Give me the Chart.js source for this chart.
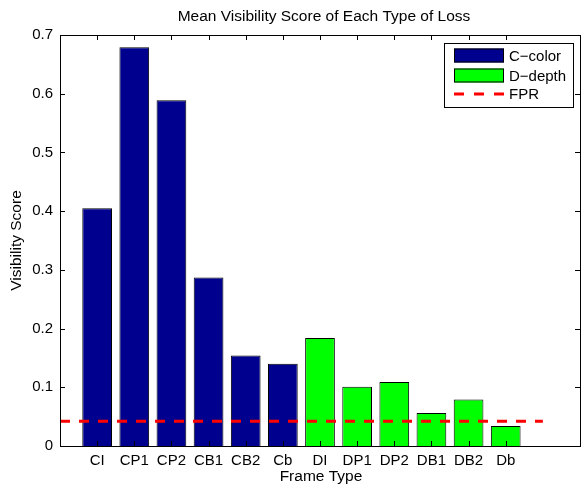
<!DOCTYPE html>
<html>
<head>
<meta charset="utf-8">
<script src="https://cdn.jsdelivr.net/npm/chart.js@4.4.1/dist/chart.umd.min.js"></script>
<style>
  html, body { margin: 0; padding: 0; background: #fff; }
  #wrap { width: 582px; height: 487px; }
</style>
</head>
<body>
<div id="wrap"><canvas id="chart" width="582" height="487"></canvas></div>
<script>
// data
const categories = ['CI', 'CP1', 'CP2', 'CB1', 'CB2', 'Cb', 'DI', 'DP1', 'DP2', 'DB1', 'DB2', 'Db'];
const colorScores = [0.405, 0.679, 0.589, 0.287, 0.154, 0.140];
const depthScores = [0.184, 0.101, 0.109, 0.056, 0.079, 0.034];
const fprValue = 0.042;
const fprRange = [0, 13];
const yTicks = [0, 0.1, 0.2, 0.3, 0.4, 0.5, 0.6, 0.7];

const FONT = '"Liberation Sans", Arial, Helvetica, sans-serif';
const NAVY = '#00008f';
const GREEN = '#00ff00';

// bars sit at x = 1..12, like MATLAB's bar()
const colorPts = colorScores.map((v, i) => ({ x: i + 1, y: v }));
const depthPts = depthScores.map((v, i) => ({ x: colorScores.length + i + 1, y: v }));
const fprPts = fprRange.map(x => ({ x, y: fprValue }));

// box, inward ticks, title, axis labels and legend in MATLAB style
const matlabFrame = {
  id: 'matlabFrame',
  afterDraw(chart) {
    const { ctx, chartArea: a, scales: { x, y } } = chart;
    ctx.save();
    ctx.strokeStyle = '#000';
    ctx.lineWidth = 1;
    ctx.strokeRect(Math.round(a.left) + 0.5, Math.round(a.top) + 0.5,
                   Math.round(a.right - a.left), Math.round(a.bottom - a.top));

    ctx.beginPath();
    categories.forEach((c, i) => {
      const px = Math.round(x.getPixelForValue(i + 1)) + 0.5;
      ctx.moveTo(px, a.bottom); ctx.lineTo(px, a.bottom - 5);
      ctx.moveTo(px, a.top); ctx.lineTo(px, a.top + 5);
    });
    yTicks.forEach(v => {
      const py = Math.round(y.getPixelForValue(v)) + 0.5;
      ctx.moveTo(a.left, py); ctx.lineTo(a.left + 5, py);
      ctx.moveTo(a.right, py); ctx.lineTo(a.right - 5, py);
    });
    ctx.stroke();

    ctx.fillStyle = '#000';
    ctx.font = '15.5px ' + FONT;
    ctx.textAlign = 'center';
    ctx.textBaseline = 'middle';
    const cx = (a.left + a.right) / 2;
    ctx.fillText('Mean Visibility Score of Each Type of Loss', cx + 4, 17);
    ctx.fillText('Frame Type', cx + 1, 477);
    ctx.save();
    ctx.translate(17, (a.top + a.bottom) / 2);
    ctx.rotate(-Math.PI / 2);
    ctx.fillText('Visibility Score', 0, 0);
    ctx.restore();

    // legend
    const lx = 444, ly = 43, lw = 129, lh = 64;
    ctx.fillStyle = '#fff';
    ctx.fillRect(lx, ly, lw, lh);
    ctx.strokeRect(lx + 0.5, ly + 0.5, lw, lh);
    const rows = [
      { label: 'C\u2212color', fill: NAVY, yc: 55.5 },
      { label: 'D\u2212depth', fill: GREEN, yc: 75.5 },
      { label: 'FPR', line: 'red', yc: 94 }
    ];
    ctx.font = '15px ' + FONT;
    ctx.textAlign = 'left';
    rows.forEach(r => {
      if (r.fill) {
        ctx.fillStyle = r.fill;
        ctx.fillRect(454, r.yc - 7, 50, 14);
        ctx.strokeStyle = '#000';
        ctx.lineWidth = 1;
        ctx.strokeRect(454.5, r.yc - 6.5, 49, 13);
      } else {
        ctx.strokeStyle = r.line;
        ctx.lineWidth = 3;
        ctx.setLineDash([10, 10]);
        ctx.beginPath();
        ctx.moveTo(454, r.yc); ctx.lineTo(504, r.yc);
        ctx.stroke();
        ctx.setLineDash([]);
      }
      ctx.fillStyle = '#000';
      ctx.fillText(r.label, 509, r.yc + 1);
    });
    ctx.restore();
  }
};

new Chart(document.getElementById('chart'), {
  data: {
    datasets: [
      {
        type: 'line',
        label: 'FPR',
        data: fprPts,
        borderColor: '#ff0000',
        borderWidth: 3,
        borderDash: [10, 9],
        pointRadius: 0,
        fill: false,
        order: 0
      },
      {
        type: 'bar',
        label: 'C\u2212color',
        data: colorPts,
        backgroundColor: NAVY,
        borderColor: '#000',
        borderWidth: 1,
        barPercentage: 0.8,
        categoryPercentage: 1,
        grouped: false,
        order: 1
      },
      {
        type: 'bar',
        label: 'D\u2212depth',
        data: depthPts,
        backgroundColor: GREEN,
        borderColor: '#000',
        borderWidth: 1,
        barPercentage: 0.8,
        categoryPercentage: 1,
        grouped: false,
        order: 1
      }
    ]
  },
  options: {
    responsive: false,
    animation: false,
    devicePixelRatio: 1,
    layout: { padding: { top: 35, right: 2, left: 0, bottom: 0 } },
    plugins: {
      legend: { display: false },
      title: { display: false },
      tooltip: { enabled: false }
    },
    scales: {
      x: {
        type: 'linear',
        offset: false,
        min: 0,
        max: 14,
        grid: { display: false, drawTicks: false },
        border: { display: false },
        afterFit(s) { s.height = 41; s.paddingLeft = 0; s.paddingRight = 0; },
        ticks: {
          stepSize: 1,
          autoSkip: false,
          maxRotation: 0,
          padding: 6,
          color: '#000',
          font: { family: FONT, size: 15 },
          callback: v => categories[v - 1] || ''
        }
      },
      y: {
        min: 0,
        max: 0.7,
        grid: { display: false, drawTicks: false },
        border: { display: false },
        afterFit(s) { s.width = 60; s.paddingTop = 0; s.paddingBottom = 0; },
        afterBuildTicks(s) { s.ticks = yTicks.map(v => ({ value: v })); },
        ticks: {
          padding: 7,
          color: '#000',
          font: { family: FONT, size: 15 },
          callback: v => v === 0 ? '0' : v.toFixed(1)
        }
      }
    }
  },
  plugins: [matlabFrame]
});
</script>
</body>
</html>
